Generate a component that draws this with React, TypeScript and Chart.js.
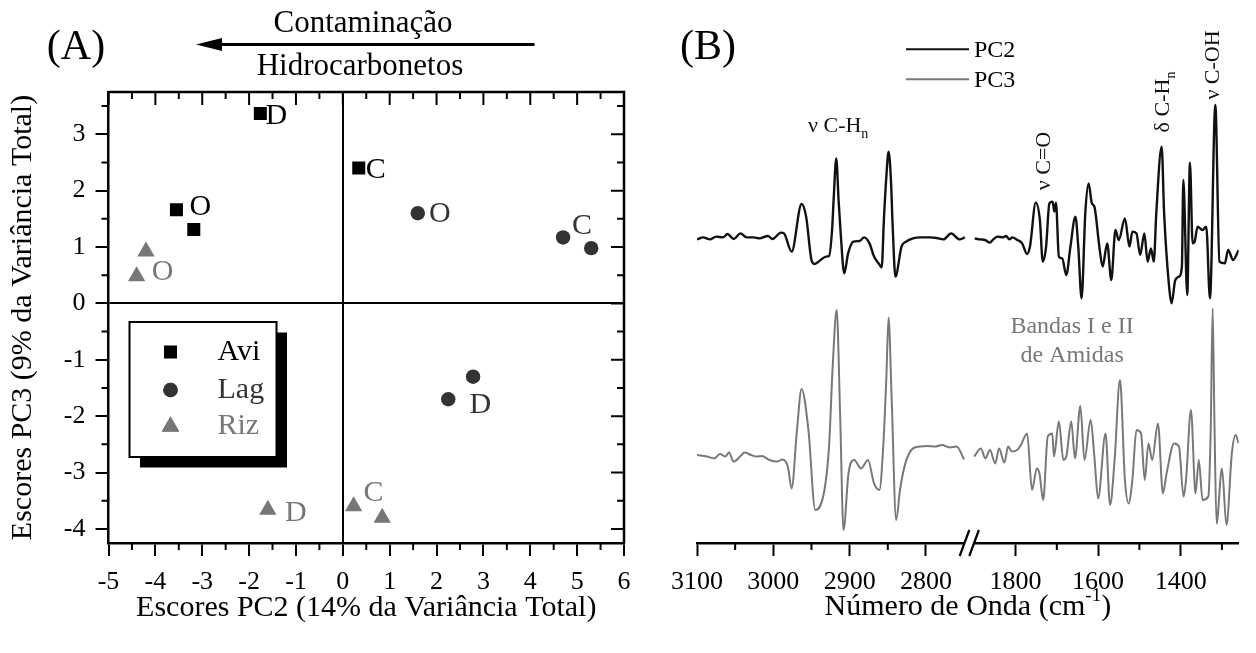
import React, { useEffect, useRef } from "react";
import { Chart, registerables } from "chart.js";
import { drawPoint } from "chart.js/helpers";

Chart.register(...registerables);

const SERIF = '"Liberation Serif", "Times New Roman", serif';

// ---------------- Panel (A): PCA scores ----------------
const xRangeA = [-5, 6];
const yRangeA = [-4.25, 3.75];
const xTicksA = [-5, -4, -3, -2, -1, 0, 1, 2, 3, 4, 5, 6];
const yTicksA = [-4, -3, -2, -1, 0, 1, 2, 3];
const xMinorA = [-4.5, -3.5, -2.5, -1.5, -0.5, 0.5, 1.5, 2.5, 3.5, 4.5, 5.5];
const yMinorA = [-3.5, -2.5, -1.5, -0.5, 0.5, 1.5, 2.5, 3.5];

const seriesNames = ["Avi", "Lag", "Riz"];
const aviPC2 = [-1.76, 0.34, -3.55, -3.18];
const aviPC3 = [3.37, 2.4, 1.66, 1.31];
const aviTags = ["D", "C", "O", ""];
const lagPC2 = [1.6, 4.7, 5.3, 2.78, 2.25];
const lagPC3 = [1.6, 1.17, 0.98, -1.3, -1.7];
const lagTags = ["O", "C", "", "", "D"];
const rizPC2 = [-4.2, -4.4, -1.6, 0.23, 0.84];
const rizPC3 = [0.92, 0.48, -3.66, -3.6, -3.8];
const rizTags = ["", "O", "D", "C", ""];

// ---------------- Panel (B): loadings spectra ----------------
const xRangeLeft = [2743.2, 3100];
const xRangeRight = [1259.4, 1912];
const xTicksLeft = [3100, 3000, 2900, 2800];
const xTicksRight = [1800, 1600, 1400];
const xMinorLeft = [3050, 2950, 2850];
const xMinorRight = [1700, 1500, 1300];
const yRangePC2 = [-15.25, 7.3];
const yRangePC3 = [-4.35, 18.2];

const pc2LeftWn = [3100, 3092, 3083, 3075, 3066, 3060, 3052, 3043, 3035, 3026, 3018, 3007, 3001, 2990, 2986, 2976, 2963, 2957, 2950, 2946, 2938, 2931, 2927, 2923, 2921, 2917.5, 2914.5, 2912, 2907, 2902, 2895, 2887, 2881, 2874, 2868, 2862, 2858, 2855, 2852, 2849, 2846, 2843.5, 2840, 2832, 2826, 2817, 2807, 2794, 2786, 2777, 2767, 2756, 2749];
const pc2LeftVal = [-0.07, 0.03, -0.07, 0.07, 0.03, 0.2, -0.05, 0.23, 0.03, 0.03, -0.02, 0.1, -0.05, 0.27, 0.23, -0.68, 1.7, 1.07, -1.1, -1.3, -1.1, -0.93, -0.9, 0.4, 1.9, 3.98, 1.9, 0.4, -1.77, -0.77, -0.18, -0.15, 0.03, -0.27, -0.93, -1.27, -1.47, 1.0, 3.0, 4.32, 3.0, 0.5, -1.93, -0.43, -0.18, -0.02, 0.03, 0.03, 0.0, -0.07, 0.23, -0.07, 0.03];

const pc2RightWn = [1899, 1886, 1874, 1862, 1854, 1843, 1831, 1823, 1815, 1808, 1796, 1784, 1772, 1765, 1751, 1741, 1734, 1726, 1718, 1710, 1706, 1702, 1695, 1687, 1677, 1667, 1655, 1648, 1640, 1631, 1623, 1615, 1609, 1597, 1589, 1578, 1568, 1558, 1550, 1535, 1524, 1517, 1507, 1498, 1488, 1480, 1472, 1465, 1459, 1446, 1440, 1428, 1422, 1413, 1404, 1397, 1393.5, 1384, 1377.5, 1371, 1366, 1359, 1347, 1338, 1329, 1316, 1306, 1293, 1285, 1273, 1259.4];
const pc2RightVal = [-0.02, -0.07, -0.1, -0.23, -0.07, 0.07, 0.03, 0.1, -0.07, 0.03, -0.1, -0.27, -0.8, -0.43, 1.77, 0.9, -1.18, -0.43, 1.73, 1.82, 1.32, 1.77, -0.93, -1.02, -1.85, -0.43, 1.07, -0.43, -3.02, 1.23, 2.73, 1.73, 1.57, -0.43, -1.43, -0.27, -2.1, 0.4, -0.1, 0.98, -0.43, 0.32, 0.23, -0.85, 0.23, -1.18, -0.52, -1.18, 1.25, 4.57, 1.23, -2.43, -3.27, -2.1, -1.93, -1.43, 2.9, -2.85, 3.77, -0.27, -0.18, 0.57, 0.4, 0.57, -3.02, 6.65, -1.18, -1.27, -0.6, -1.1, -0.6];

const pc3LeftWn = [3100, 3087, 3077, 3070, 3063, 3058, 3052, 3043, 3038, 3029, 3022, 3015, 3005, 2995, 2988, 2981, 2976, 2969, 2963, 2954, 2945, 2933, 2927, 2922, 2917, 2912.5, 2908, 2901.5, 2894, 2885, 2876, 2868, 2861, 2856, 2852, 2849, 2845, 2839, 2834, 2827, 2817, 2808, 2798, 2788, 2779, 2769, 2760, 2750];
const pc3LeftVal = [0.05, -0.03, -0.12, 0.1, -0.03, 0.17, -0.28, 0.0, 0.17, 0.05, -0.03, 0.0, -0.2, -0.28, -0.17, -0.53, -1.62, 1.3, 3.35, 1.3, -2.7, -1.7, 0.47, 4.63, 7.3, 2.13, -3.7, -0.87, -0.2, -0.62, -0.2, -1.37, -1.7, 0.47, 3.8, 6.93, 2.97, -3.2, -1.7, -0.37, 0.38, 0.47, 0.5, 0.47, 0.55, 0.43, 0.47, -0.17];

const pc3RightWn = [1900, 1884, 1873, 1862, 1849, 1840, 1827, 1818, 1809, 1796, 1787, 1772, 1760, 1748.5, 1742, 1733, 1722, 1711, 1707, 1695, 1684, 1677, 1665, 1656, 1643, 1633, 1618, 1609, 1600, 1582, 1571, 1560, 1547, 1535, 1526, 1517, 1507, 1496, 1487, 1478, 1469, 1455, 1443, 1434, 1416, 1404, 1393, 1387, 1375, 1364, 1356, 1347, 1333, 1327, 1322.5, 1318, 1313, 1300, 1289, 1276, 1267, 1259.4];
const pc3RightVal = [-0.03, 0.38, -0.12, 0.3, -0.37, 0.38, -0.33, 0.47, 0.22, 0.3, 0.55, 1.13, -1.7, -0.62, -0.87, -2.2, 0.97, 1.13, -0.03, 1.72, -0.2, -0.03, 1.72, -0.12, 2.5, -0.2, 1.8, -0.03, -2.12, 1.13, -2.45, -0.2, 3.8, -1.2, -2.37, -1.2, 1.3, 1.13, -1.2, 0.63, -0.2, 1.63, -1.87, -0.87, 0.63, 0.47, -2.03, -1.2, 2.3, -1.87, -0.2, -2.2, -2.03, 1.5, 7.38, 1.5, -3.37, -0.62, -3.45, 0.13, 1.05, 0.63];

// band annotations anchored in (wavenumber, loading) coordinates
const annParts = [
  [{ t: "ν C-H" }, { t: "n", sub: true }],
  [{ t: "ν C=O" }],
  [{ t: "δ C-H" }, { t: "n", sub: true }],
  [{ t: "ν C-OH" }],
  [{ t: "Bandas I e II" }],
  [{ t: "de Amidas" }],
];
const annWn = [2915, 1731, 1442, 1320, 1663, 1663];
const annVal = [5.6, 3.85, 6.8, 8.65, 6.45, 5.0];
const annXAxis = ["xL", "xR", "xR", "xR", "xR", "xR"];
const annYAxis = ["y2", "y2", "y2", "y2", "y3", "y3"];
const annRotated = [false, true, true, true, false, false];
const annSeries = [0, 0, 0, 0, 2, 2];

// ---------------- styles ----------------
const COL_AVI = "#000000";
const COL_LAG = "#333333";
const COL_RIZ = "#777777";
const COL_PC2 = "#111111";
const COL_PC3 = "#787878";

const tagOffsets = [
  [[16, 3], [17, 2], [24, -3], [0, 0]],
  [[22, 1], [19, -11], [0, 0], [0, 0], [32, 6]],
  [[0, 0], [26, -4], [28, 3], [20, -13], [0, 0]],
];
const tagLists = [aviTags, lagTags, rizTags];

function textWithSub(ctx: CanvasRenderingContext2D, parts: any[], cx: number, cy: number, size: number, color: string, rotated: boolean) {
  ctx.save();
  ctx.translate(cx, cy);
  if (rotated) ctx.rotate(-Math.PI / 2);
  ctx.fillStyle = color;
  ctx.textBaseline = "middle";
  ctx.textAlign = "left";
  const main = `${size}px ${SERIF}`;
  const small = `${Math.round(size * 0.62)}px ${SERIF}`;
  let total = 0;
  for (const p of parts) {
    ctx.font = p.sub || p.sup ? small : main;
    total += ctx.measureText(p.t).width;
  }
  let x = -total / 2;
  for (const p of parts) {
    ctx.font = p.sub || p.sup ? small : main;
    const dy = p.sub ? size * 0.38 : p.sup ? -size * 0.36 : 0;
    ctx.fillText(p.t, x, dy);
    x += ctx.measureText(p.t).width;
  }
  ctx.restore();
}

const panelAPlugin = {
  id: "panelA",
  afterDatasetsDraw(chart: any) {
    const { ctx } = chart;
    ctx.save();
    ctx.font = `30px ${SERIF}`;
    ctx.textAlign = "center";
    ctx.textBaseline = "middle";
    chart.data.datasets.forEach((ds: any, i: number) => {
      const meta = chart.getDatasetMeta(i);
      ctx.fillStyle = ds.backgroundColor;
      tagLists[i].forEach((t: string, j: number) => {
        if (!t) return;
        const el = meta.data[j];
        const [dx, dy] = tagOffsets[i][j];
        ctx.fillText(t, el.x + dx, el.y + dy);
      });
    });
    ctx.restore();
  },
  afterDraw(chart: any) {
    const { ctx, chartArea: ca, scales } = chart;
    const x = scales.x;
    const y = scales.y;
    ctx.save();
    ctx.strokeStyle = "#000";
    ctx.lineWidth = 2.5;
    ctx.beginPath();
    ctx.moveTo(ca.left, ca.top);
    ctx.lineTo(ca.right, ca.top);
    ctx.lineTo(ca.right, ca.bottom);
    ctx.stroke();
    ctx.lineWidth = 2;
    ctx.beginPath();
    for (const v of xTicksA) {
      const p = x.getPixelForValue(v);
      ctx.moveTo(p, ca.top);
      ctx.lineTo(p, ca.top + 13);
    }
    for (const v of xMinorA) {
      const p = x.getPixelForValue(v);
      ctx.moveTo(p, ca.top);
      ctx.lineTo(p, ca.top + 7);
      ctx.moveTo(p, ca.bottom);
      ctx.lineTo(p, ca.bottom + 7);
    }
    for (const v of yTicksA) {
      const p = y.getPixelForValue(v);
      ctx.moveTo(ca.right, p);
      ctx.lineTo(ca.right - 13, p);
    }
    for (const v of yMinorA) {
      const p = y.getPixelForValue(v);
      ctx.moveTo(ca.right, p);
      ctx.lineTo(ca.right - 7, p);
      ctx.moveTo(ca.left, p);
      ctx.lineTo(ca.left - 7, p);
    }
    ctx.stroke();

    // legend box with drop shadow
    const lx = ca.left + 21, ly = ca.top + 230, lw = 147, lh = 135;
    ctx.fillStyle = "#000";
    ctx.fillRect(lx + 10.5, ly + 10.5, lw, lh);
    ctx.fillStyle = "#fff";
    ctx.fillRect(lx, ly, lw, lh);
    ctx.lineWidth = 2;
    ctx.strokeStyle = "#000";
    ctx.strokeRect(lx, ly, lw, lh);
    const rows = [30, 68, 104.5];
    chart.data.datasets.forEach((ds: any, i: number) => {
      const cy = ly + rows[i];
      drawPoint(ctx, { pointStyle: ds.pointStyle, radius: ds.pointRadius, rotation: 0, borderWidth: 0 } as any, lx + 41, cy);
      ctx.fillStyle = ds.backgroundColor;
      ctx.fill();
      ctx.font = `30px ${SERIF}`;
      ctx.textAlign = "left";
      ctx.textBaseline = "middle";
      ctx.fillText(seriesNames[i], lx + 88, cy);
    });

    // header: (A) and contamination arrow
    ctx.fillStyle = "#000";
    ctx.textAlign = "center";
    ctx.textBaseline = "middle";
    ctx.font = `42px ${SERIF}`;
    ctx.fillText("(A)", 76, 48);
    ctx.font = `31px ${SERIF}`;
    ctx.fillText("Contaminação", 363, 24);
    ctx.fillText("Hidrocarbonetos", 360, 67);
    ctx.lineWidth = 3;
    ctx.beginPath();
    ctx.moveTo(534.5, 44.5);
    ctx.lineTo(215, 44.5);
    ctx.stroke();
    ctx.beginPath();
    ctx.moveTo(196, 44.5);
    ctx.lineTo(222, 38);
    ctx.lineTo(222, 51);
    ctx.closePath();
    ctx.fill();
    ctx.restore();
  },
};

const panelBPlugin = {
  id: "panelB",
  afterDraw(chart: any) {
    const { ctx, chartArea: ca, scales } = chart;
    const xL = scales.xL;
    const xR = scales.xR;
    ctx.save();
    ctx.strokeStyle = "#000";
    ctx.lineWidth = 2;
    ctx.beginPath();
    for (const v of xMinorLeft) {
      const p = xL.getPixelForValue(v);
      ctx.moveTo(p, ca.bottom);
      ctx.lineTo(p, ca.bottom + 7);
    }
    for (const v of xMinorRight) {
      const p = xR.getPixelForValue(v);
      ctx.moveTo(p, ca.bottom);
      ctx.lineTo(p, ca.bottom + 7);
    }
    ctx.stroke();

    // axis break
    const bx = xL.right;
    ctx.fillStyle = "#fff";
    ctx.fillRect(bx - 5, ca.bottom - 3, 10, 7);
    ctx.beginPath();
    for (const off of [-4.8, 4.8]) {
      ctx.moveTo(bx + off - 4.8, ca.bottom + 13);
      ctx.lineTo(bx + off + 4.8, ca.bottom - 13);
    }
    ctx.lineWidth = 2.2;
    ctx.stroke();

    // annotations
    annParts.forEach((parts, i) => {
      const px = scales[annXAxis[i]].getPixelForValue(annWn[i]);
      const py = scales[annYAxis[i]].getPixelForValue(annVal[i]);
      const color = chart.data.datasets[annSeries[i]].borderColor;
      const size = annSeries[i] === 2 ? 24 : 22;
      textWithSub(ctx, parts, px, py, size, color, annRotated[i]);
    });

    // legend (PC2 / PC3)
    const legendRows = [49.3, 79.3];
    [0, 2].forEach((di, k) => {
      const ds = chart.data.datasets[di];
      ctx.strokeStyle = ds.borderColor;
      ctx.lineWidth = 2;
      ctx.beginPath();
      ctx.moveTo(246, legendRows[k]);
      ctx.lineTo(309, legendRows[k]);
      ctx.stroke();
      ctx.fillStyle = "#000";
      ctx.font = `24px ${SERIF}`;
      ctx.textAlign = "left";
      ctx.textBaseline = "middle";
      ctx.fillText(ds.label, 314, legendRows[k] + 1);
    });

    // panel letter
    ctx.fillStyle = "#000";
    ctx.font = `42px ${SERIF}`;
    ctx.textAlign = "center";
    ctx.textBaseline = "middle";
    ctx.fillText("(B)", 48, 48);

    // axis title with superscript
    textWithSub(ctx, [{ t: "Número de Onda (cm" }, { t: "-1", sup: true }, { t: ")" }], (ca.left + ca.right) / 2, 607, 30, "#000", false);
    ctx.restore();
  },
};

const tickFont = { family: SERIF, size: 26 };
const plainNumber = (v: any) => String(v);

function xAxisCommon(): any {
  return {
    type: "linear",
    position: "bottom",
    afterFit: (s: any) => {
      s.height = 110;
    },
    ticks: { autoSkip: false, maxRotation: 0, minRotation: 0, padding: 11, color: "#000", font: tickFont, includeBounds: false, callback: plainNumber },
    grid: { drawOnChartArea: false, drawTicks: true, tickLength: 13, tickColor: "#000", tickWidth: 2 },
    border: { display: true, color: "#000", width: 2.5 },
  };
}

function configA(): any {
  const mk = (xs: number[], ys: number[]) => xs.map((x, i) => ({ x, y: ys[i] }));
  return {
    type: "scatter",
    data: {
      datasets: [
        { label: seriesNames[0], data: mk(aviPC2, aviPC3), pointStyle: "rect", pointRadius: 9.2, pointHoverRadius: 9.2, backgroundColor: COL_AVI, borderColor: COL_AVI, borderWidth: 0 },
        { label: seriesNames[1], data: mk(lagPC2, lagPC3), pointStyle: "circle", pointRadius: 7.2, pointHoverRadius: 7.2, backgroundColor: COL_LAG, borderColor: COL_LAG, borderWidth: 0 },
        { label: seriesNames[2], data: mk(rizPC2, rizPC3), pointStyle: "triangle", pointRadius: 10, pointHoverRadius: 10, backgroundColor: COL_RIZ, borderColor: COL_RIZ, borderWidth: 0 },
      ],
    },
    options: {
      animation: false,
      responsive: false,
      devicePixelRatio: 1,
      events: [],
      layout: { padding: { left: 0, top: 92, right: 36, bottom: 0 } },
      plugins: { legend: { display: false }, tooltip: { enabled: false } },
      scales: {
        x: {
          ...xAxisCommon(),
          min: xRangeA[0],
          max: xRangeA[1],
          afterBuildTicks: (s: any) => {
            s.ticks = xTicksA.map((v) => ({ value: v }));
          },
          grid: {
            drawOnChartArea: true,
            color: (c: any) => (c.tick && c.tick.value === 0 ? "#000" : "rgba(0,0,0,0)"),
            lineWidth: 2,
            drawTicks: true,
            tickLength: 13,
            tickColor: "#000",
            tickWidth: 2,
          },
          title: { display: true, text: "Escores PC2 (14% da Variância Total)", color: "#000", font: { family: SERIF, size: 30 }, padding: { top: 0, bottom: 27 } },
        },
        y: {
          type: "linear",
          position: "left",
          min: yRangeA[0],
          max: yRangeA[1],
          afterBuildTicks: (s: any) => {
            s.ticks = yTicksA.map((v) => ({ value: v }));
          },
          afterFit: (s: any) => {
            s.width = 108.5;
          },
          ticks: { autoSkip: false, padding: 10, color: "#000", font: tickFont, includeBounds: false, callback: plainNumber },
          grid: {
            drawOnChartArea: true,
            color: (c: any) => (c.tick && c.tick.value === 0 ? "#000" : "rgba(0,0,0,0)"),
            lineWidth: 2,
            drawTicks: true,
            tickLength: 13,
            tickColor: "#000",
            tickWidth: 2,
          },
          border: { display: true, color: "#000", width: 2.5 },
          title: { display: true, text: "Escores PC3 (9% da Variância Total)", color: "#000", font: { family: SERIF, size: 30 }, padding: { top: 5, bottom: 0 } },
        },
      },
    },
    plugins: [panelAPlugin],
  };
}

function configB(): any {
  const mk = (xs: number[], ys: number[]) => xs.map((x, i) => ({ x, y: ys[i] }));
  const line = { pointRadius: 0, cubicInterpolationMode: "monotone", fill: false };
  return {
    type: "line",
    data: {
      datasets: [
        { ...line, label: "PC2", data: mk(pc2LeftWn, pc2LeftVal), xAxisID: "xL", yAxisID: "y2", borderColor: COL_PC2, borderWidth: 2.4 },
        { ...line, label: "PC2", data: mk(pc2RightWn, pc2RightVal), xAxisID: "xR", yAxisID: "y2", borderColor: COL_PC2, borderWidth: 2.4 },
        { ...line, label: "PC3", data: mk(pc3LeftWn, pc3LeftVal), xAxisID: "xL", yAxisID: "y3", borderColor: COL_PC3, borderWidth: 2 },
        { ...line, label: "PC3", data: mk(pc3RightWn, pc3RightVal), xAxisID: "xR", yAxisID: "y3", borderColor: COL_PC3, borderWidth: 2 },
      ],
    },
    options: {
      animation: false,
      responsive: false,
      devicePixelRatio: 1,
      events: [],
      layout: { padding: { left: 35, top: 92, right: 0, bottom: 0 } },
      plugins: { legend: { display: false }, tooltip: { enabled: false } },
      scales: {
        xL: {
          ...xAxisCommon(),
          reverse: true,
          min: xRangeLeft[0],
          max: xRangeLeft[1],
          stack: "wavenumber",
          stackWeight: 282,
          afterBuildTicks: (s: any) => {
            s.ticks = xTicksLeft.map((v) => ({ value: v }));
          },
        },
        xR: {
          ...xAxisCommon(),
          reverse: true,
          min: xRangeRight[0],
          max: xRangeRight[1],
          stack: "wavenumber",
          stackWeight: 279,
          afterBuildTicks: (s: any) => {
            s.ticks = xTicksRight.map((v) => ({ value: v }));
          },
        },
        y2: { type: "linear", display: false, min: yRangePC2[0], max: yRangePC2[1] },
        y3: { type: "linear", display: false, min: yRangePC3[0], max: yRangePC3[1] },
      },
    },
    plugins: [panelBPlugin],
  };
}

export default function App() {
  const refA = useRef<HTMLCanvasElement>(null);
  const refB = useRef<HTMLCanvasElement>(null);
  useEffect(() => {
    const a = new Chart(refA.current as HTMLCanvasElement, configA());
    const b = new Chart(refB.current as HTMLCanvasElement, configB());
    return () => {
      a.destroy();
      b.destroy();
    };
  }, []);
  return (
    <div style={{ position: "fixed", left: 0, top: 0, width: 1256, height: 653, background: "#fff", overflow: "hidden" }}>
      <canvas ref={refA} width={660} height={653} style={{ position: "absolute", left: 0, top: 0, width: 660, height: 653 }} />
      <canvas ref={refB} width={596} height={653} style={{ position: "absolute", left: 660, top: 0, width: 596, height: 653 }} />
    </div>
  );
}
